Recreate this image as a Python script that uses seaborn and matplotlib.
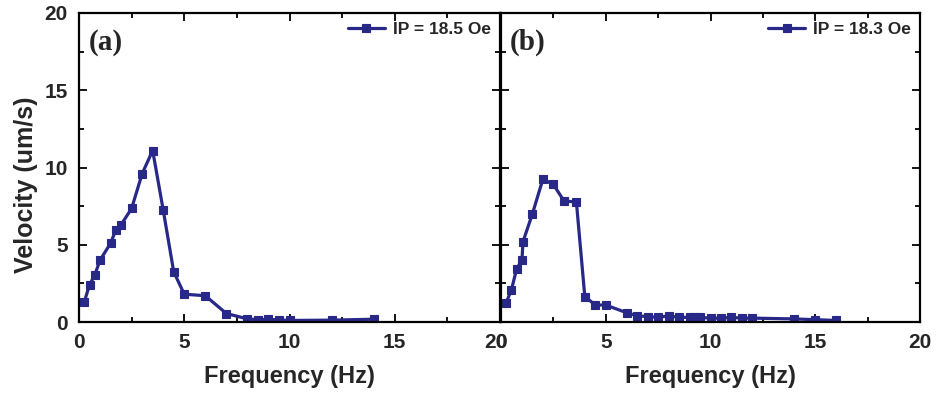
import matplotlib
matplotlib.use("Agg")
import matplotlib.pyplot as plt
from matplotlib.ticker import MultipleLocator, FixedFormatter
from matplotlib.transforms import blended_transform_factory, ScaledTranslation
import seaborn as sns
import pandas as pd

# ---- data ----
freq_a = [0.25, 0.5, 0.75, 1.0, 1.5, 1.75, 2.0, 2.5, 3.0, 3.5, 4.0, 4.5, 5.0, 6.0,
          7.0, 8.0, 8.5, 9.0, 9.5, 10.0, 12.0, 14.0]
vel_a = [1.3, 2.4, 3.05, 4.0, 5.1, 5.95, 6.3, 7.35, 9.6, 11.1, 7.25, 3.25, 1.8, 1.7,
         0.55, 0.2, 0.15, 0.18, 0.13, 0.1, 0.12, 0.18]

freq_b = [0.25, 0.5, 0.75, 1.0, 1.05, 1.5, 2.0, 2.5, 3.0, 3.6, 4.0, 4.5, 5.0, 6.0,
          6.5, 7.0, 7.5, 8.0, 8.5, 9.0, 9.25, 9.5, 10.0, 10.5, 11.0, 11.5, 12.0,
          14.0, 15.0, 16.0]
vel_b = [1.25, 2.1, 3.45, 4.0, 5.2, 7.0, 9.25, 8.9, 7.85, 7.75, 1.65, 1.1, 1.1, 0.6,
         0.4, 0.35, 0.3, 0.4, 0.3, 0.3, 0.35, 0.3, 0.25, 0.25, 0.3, 0.25, 0.25,
         0.2, 0.15, 0.1]

labels = ["IP = 18.5 Oe", "IP = 18.3 Oe"]
panel_tags = ["(a)", "(b)"]
x_ticks = [0, 5, 10, 15, 20]
y_ticks = [0, 5, 10, 15, 20]
x_ticklabels = ["0", "5", "10", "15", "20"]

df_a = pd.DataFrame({"Frequency": freq_a, "Velocity": vel_a})
df_b = pd.DataFrame({"Frequency": freq_b, "Velocity": vel_b})

sns.set_theme(style="ticks")
plt.rcParams["font.family"] = ["Liberation Sans", "DejaVu Sans"]
plt.rcParams["font.weight"] = "bold"

W, H = 943, 393
fig = plt.figure(figsize=(W / 100, H / 100), dpi=100)
ax_a = fig.add_axes([79 / W, (H - 322) / H, 421 / W, 309 / H])
ax_b = fig.add_axes([501 / W, (H - 322) / H, 419 / W, 309 / H])

color = "#282888"

for ax, df, lab, tag in [(ax_a, df_a, labels[0], panel_tags[0]),
                         (ax_b, df_b, labels[1], panel_tags[1])]:
    sns.lineplot(data=df, x="Frequency", y="Velocity", ax=ax, color=color,
                 marker="s", markersize=6, linewidth=2.3, markeredgecolor=color,
                 markeredgewidth=0.8, label=lab, sort=False)
    ax.set_xlim(0, 20)
    ax.set_ylim(0, 20)
    ax.set_xticks(x_ticks)
    ax.set_yticks(y_ticks)
    ax.xaxis.set_minor_locator(MultipleLocator(2.5))
    ax.yaxis.set_minor_locator(MultipleLocator(2.5))
    ax.tick_params(which="both", direction="in", top=True, right=True,
                   width=1.3, color="black")
    ax.tick_params(which="major", length=6, labelsize=15, pad=8)
    ax.tick_params(which="minor", length=3.5)
    for s in ax.spines.values():
        s.set_linewidth(1.6)
        s.set_color("black")
    ax.set_xlabel("Frequency (Hz)", fontsize=17, fontweight="bold", labelpad=9)
    ax.text(0.022, 0.905, tag, transform=ax.transAxes, fontsize=21,
            fontweight="bold", family=["Liberation Serif", "DejaVu Serif"],
            va="center", ha="left")
    leg = ax.legend(loc="upper right", bbox_to_anchor=(1.0, 1.0), frameon=False,
                    fontsize=12.5, borderaxespad=0.1, borderpad=0.4,
                    handlelength=2.1, handletextpad=0.5)
    for t in leg.get_texts():
        t.set_fontweight("bold")

# panel (a): last x label drawn so that its "0" coincides with panel (b)'s "0"
ax_a.xaxis.set_major_formatter(FixedFormatter(x_ticklabels[:-1] + [""]))
ax_b.xaxis.set_major_formatter(FixedFormatter(x_ticklabels))
trans = blended_transform_factory(ax_a.transData, ax_a.transAxes) + \
    ScaledTranslation(7.8 / 100, -8 / 72, fig.dpi_scale_trans)
ax_a.text(x_ticks[-1], 0, x_ticklabels[-1], transform=trans, ha="right",
          va="top", fontsize=15, fontweight="bold")

for ax in (ax_a, ax_b):
    for lbl in ax.get_xticklabels() + ax.get_yticklabels():
        lbl.set_fontweight("bold")

ax_a.set_ylabel("Velocity (um/s)", fontsize=18, fontweight="bold")
ax_a.yaxis.set_label_coords(-0.097, 0.443)
ax_b.set_ylabel("")
ax_b.tick_params(labelleft=False)

fig.savefig("out.png", dpi=100)
